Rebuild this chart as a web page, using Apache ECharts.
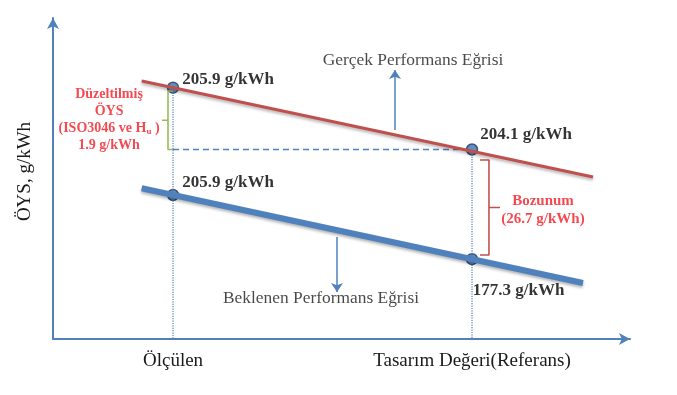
<!DOCTYPE html>
<html><head><meta charset="utf-8">
<script src="https://cdn.jsdelivr.net/npm/echarts@6/dist/echarts.min.js"></script>
<style>html,body{margin:0;padding:0;background:#fff}#c{width:677px;height:395px}</style>
</head><body><div id="c"></div>
<script>
// ---- data (schematic units 0..100 on both axes) ----
const xCategories = ['Ölçülen', 'Tasarım Değeri(Referans)'];
const xCategoryPos = [20.8, 72.62];
const actualSFC = [205.9, 204.1];      // g/kWh, Gerçek
const expectedSFC = [205.9, 177.3];    // g/kWh, Beklenen
const correctionSFC = 1.9;
const degradationSFC = 26.7;
const actualCurveX = [15.37, 93.59];
const actualCurveY = [80.37, 50.47];
const expectedCurveX = [15.37, 91.85];
const expectedCurveY = [46.95, 17.45];
const actualPointY = [78.29, 59.03];
const expectedPointY = [44.86, 24.86];
const correctionSpan = [59.03, 77.26];
const degradationSpan = [26.17, 55.76];
const yAxisTitle = 'ÖYS, g/kWh';
const actualCurveName = 'Gerçek Performans Eğrisi';
const expectedCurveName = 'Beklenen Performans Eğrisi';

const SERIF = "'Liberation Serif','Times New Roman',serif";
const BLUE = '#4F81BD', RED = '#C0504D', GREEN = '#9BBB59', TXTRED = '#F21C24';

function brace(xEnd, xMid, xTip, y0, y1) {
  const ym = (y0 + y1) / 2;
  return [[xEnd, y1], [xMid, y1], [xMid, ym], [xTip, ym], [xMid, ym], [xMid, y0], [xEnd, y0]];
}

const chart = echarts.init(document.getElementById('c'), null, {renderer: 'canvas'});
const base = {type: 'line', symbol: 'none', silent: true, animation: false};
chart.setOption({
  animation: false,
  grid: {left: 53, right: 47, top: 18, bottom: 56},
  xAxis: {
    type: 'value', min: 0, max: 100,
    axisLine: {show: true, symbol: ['none', 'arrow'], symbolSize: [9, 11], lineStyle: {color: BLUE, width: 2}},
    axisTick: {show: false}, splitLine: {show: false},
    axisLabel: {
      customValues: xCategoryPos, margin: 13, fontSize: 19, color: '#1a1a1a', fontFamily: SERIF,
      formatter: v => { const i = xCategoryPos.findIndex(p => Math.abs(p - v) < 1e-6); return i >= 0 ? xCategories[i] : ''; }
    }
  },
  yAxis: {
    type: 'value', min: 0, max: 100,
    name: yAxisTitle, nameLocation: 'middle', nameGap: 18,
    nameTextStyle: {fontSize: 19, color: '#1a1a1a', fontFamily: SERIF, padding: [0, 0, 0, 14]},
    axisLine: {show: true, symbol: ['none', 'arrow'], symbolSize: [9, 11], lineStyle: {color: BLUE, width: 2}},
    axisTick: {show: false}, splitLine: {show: false}, axisLabel: {show: false}
  },
  series: [
    Object.assign({}, base, {data: [[xCategoryPos[0], actualPointY[0]], [xCategoryPos[0], 0]], lineStyle: {color: BLUE, width: 1.2, type: 'dotted'}}),
    Object.assign({}, base, {data: [[xCategoryPos[1], actualPointY[1]], [xCategoryPos[1], 0]], lineStyle: {color: BLUE, width: 1.2, type: 'dotted'}}),
    Object.assign({}, base, {data: [[xCategoryPos[0], actualPointY[1]], [xCategoryPos[1], actualPointY[1]]], lineStyle: {color: BLUE, width: 1.4, type: [6, 4]}}),
    Object.assign({}, base, {data: brace(20.8, 19.93, 18.89, correctionSpan[0], correctionSpan[1]), lineStyle: {color: GREEN, width: 1.6}}),
    Object.assign({}, base, {data: brace(74.0, 75.56, 77.47, degradationSpan[0], degradationSpan[1]), lineStyle: {color: RED, width: 1.6}}),
    Object.assign({}, base, {
      data: [[actualCurveX[0], actualCurveY[0]], [actualCurveX[1], actualCurveY[1]]],
      lineStyle: {color: RED, width: 3.2, shadowBlur: 3, shadowColor: 'rgba(0,0,0,0.3)', shadowOffsetY: 2},
      markLine: {silent: true, symbol: ['none', 'arrow'], symbolSize: 9, label: {show: false},
        lineStyle: {color: BLUE, width: 1.5, type: 'solid'},
        data: [[{coord: [59.27, 65.11]}, {coord: [59.27, 83.8]}]]}
    }),
    Object.assign({}, base, {
      data: [[expectedCurveX[0], expectedCurveY[0]], [expectedCurveX[1], expectedCurveY[1]]],
      lineStyle: {color: BLUE, width: 6, shadowBlur: 3, shadowColor: 'rgba(0,0,0,0.3)', shadowOffsetY: 2},
      markLine: {silent: true, symbol: ['none', 'arrow'], symbolSize: 9, label: {show: false},
        lineStyle: {color: BLUE, width: 1.5, type: 'solid'},
        data: [[{coord: [49.22, 31.78]}, {coord: [49.22, 14.64]}]]}
    }),
    {
      type: 'scatter', silent: true, animation: false, symbol: 'circle', symbolSize: 11,
      itemStyle: {color: '#3F72B0', borderColor: '#1F3A60', borderWidth: 1.5},
      label: {show: true, position: 'right', distance: 3, fontFamily: SERIF, fontWeight: 'bold', fontSize: 17, color: '#000',
        formatter: p => p.data.v + ' g/kWh'},
      data: [
        {value: [xCategoryPos[0], actualPointY[0]], v: actualSFC[0].toFixed(1), label: {offset: [0, -8]}},
        {value: [xCategoryPos[1], actualPointY[1]], v: actualSFC[1].toFixed(1), label: {offset: [0, -14.5], distance: 2}},
        {value: [xCategoryPos[0], expectedPointY[0]], v: expectedSFC[0].toFixed(1), label: {offset: [0, -12]}},
        {value: [xCategoryPos[1], expectedPointY[1]], v: expectedSFC[1].toFixed(1), label: {offset: [-8.5, 31]}}
      ]
    },
    {
      type: 'scatter', silent: true, animation: false, symbol: 'circle', symbolSize: 1,
      itemStyle: {color: 'transparent'},
      label: {show: true, position: 'inside', fontFamily: SERIF, fontSize: 17.4, color: '#1a1a1a'},
      data: [
        {value: [62.39, 86.92], label: {formatter: actualCurveName}},
        {value: [46.45, 12.77], label: {formatter: expectedCurveName}},
        {value: [9.71, 68.22], label: {
          formatter: 'Düzeltilmiş\nÖYS\n(ISO3046 ve H{s|u} )\n' + correctionSFC + ' g/kWh',
          fontSize: 14, fontWeight: 'bold', color: TXTRED, lineHeight: 17, align: 'center',
          rich: {s: {fontSize: 9, fontWeight: 'bold', color: TXTRED, fontFamily: SERIF, padding: [6, 0, 0, 0]}}}},
        {value: [84.92, 40.19], label: {
          formatter: 'Bozunum\n(' + degradationSFC + ' g/kWh)',
          fontSize: 15, fontWeight: 'bold', color: TXTRED, lineHeight: 18, align: 'center'}}
      ]
    }
  ]
});
</script></body></html>
